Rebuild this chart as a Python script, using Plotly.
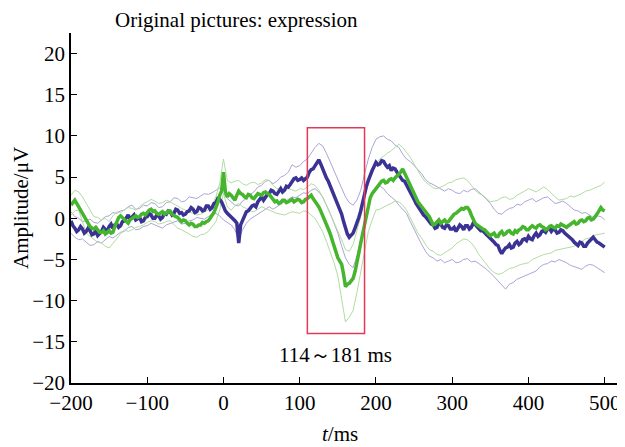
import plotly.graph_objects as go

# thick averaged waveforms (µV), sampled every 2.5 ms from -200 to 500 ms
blue_mean = [
    -0.3, -0.9, -1.2, -1.6, -1.4, -1.0, -1.3, -1.8, -1.6, -1.2, -1.5, -2.0, -1.9, -1.5, -2.1, -1.8, -1.6, -1.1, -1.3, -1.6,
    -1.0, -0.7, -1.2, -0.8, -0.7, -1.1, -0.9, -0.4, -0.3, 0.1, 0.4, -0.1, 0.2, 0.4, -0.2, 0.0, 0.1, -0.4, -0.3, 0.1,
    0.2, 0.6, 0.4, 0.0, 0.0, 0.4, 0.3, -0.1, 0.1, 0.6, 0.5, 0.9, 0.8, 0.4, 0.6, 1.1, 1.0, 0.6, 0.7, 0.4,
    0.5, 0.8, 0.9, 1.3, 1.1, 0.7, 0.8, 1.3, 1.2, 0.9, 1.0, 1.5, 1.5, 1.1, 1.3, 1.8, 1.9, 2.4, 2.3, 2.0,
    1.4, 0.9, 0.6, 0.4, 0.2, -0.1, -0.3, -0.6, -3.0, -0.8, -0.2, 0.4, 0.8, 0.9, 1.2, 1.5, 1.6, 1.4, 2.0, 2.3,
    2.6, 2.2, 2.5, 2.9, 3.0, 3.4, 3.3, 3.0, 2.9, 3.3, 3.6, 3.2, 3.4, 3.9, 3.8, 4.1, 4.4, 4.8, 4.9, 4.6,
    4.7, 4.9, 4.6, 4.8, 5.0, 5.6, 5.9, 6.0, 6.4, 6.9, 7.1, 6.6, 6.0, 5.6, 4.9, 4.5, 3.9, 3.5, 2.9, 2.4,
    1.6, 1.1, 0.5, -0.4, -1.2, -1.9, -2.3, -2.1, -1.8, -1.2, -0.6, 0.1, 0.9, 2.0, 3.0, 3.9, 4.6, 5.3, 5.8, 6.3,
    6.8, 6.5, 6.6, 7.0, 6.9, 6.5, 6.2, 6.4, 5.8, 6.1, 6.0, 5.6, 5.3, 5.0, 4.6, 4.5, 4.1, 3.6, 3.2, 2.8,
    2.3, 1.8, 1.4, 1.2, 0.8, 0.4, 0.2, -0.1, -0.3, -0.7, -0.8, -1.2, -1.1, -0.6, -0.7, -1.1, -1.2, -0.8, -0.9, -1.3,
    -1.3, -1.1, -1.6, -1.2, -0.8, -1.0, -1.4, -0.9, -0.9, -1.3, -1.1, -0.6, -0.7, -1.0, -1.2, -1.5, -1.5, -1.8, -2.0, -2.2,
    -2.4, -2.6, -2.9, -3.2, -3.3, -3.9, -4.3, -3.9, -3.6, -3.5, -3.2, -3.6, -3.5, -3.0, -2.8, -3.2, -3.0, -2.6, -2.5, -2.7,
    -2.2, -2.5, -2.6, -2.1, -1.8, -2.2, -2.0, -1.6, -1.5, -1.7, -1.3, -1.2, -1.6, -1.3, -1.4, -1.8, -1.7, -1.4, -1.5, -1.8,
    -2.0, -2.1, -2.3, -2.6, -2.9, -3.1, -3.3, -2.9, -3.0, -3.4, -3.4, -3.0, -2.8, -2.5, -2.3, -2.6, -2.9, -3.0, -3.2, -3.4,
    -3.5,
]
green_mean = [
    1.6, 2.0, 2.2, 1.8, 1.4, 0.8, 0.4, 0.0, -0.4, -0.6, -1.0, -1.2, -1.3, -1.1, -1.4, -1.7, -1.7, -1.5, -1.9, -1.7,
    -1.5, -1.8, -1.7, -1.0, -0.3, 0.1, 0.3, 0.1, -0.1, -0.3, -0.6, -0.2, 0.0, 0.2, 0.3, 0.1, 0.2, 0.5, 0.6, 0.4,
    0.8, 1.0, 1.1, 0.8, 0.9, 0.6, 0.5, 0.7, 0.8, 0.5, 0.6, 0.9, 0.9, 0.5, 0.3, 0.2, 0.1, -0.2, -0.4, -0.2,
    -0.3, -0.6, -0.8, -0.6, -0.7, -1.0, -1.0, -0.8, -0.8, -0.5, -0.6, -0.4, -0.3, 0.0, 0.3, 0.7, 1.3, 1.9, 2.8, 3.3,
    5.6, 3.2, 2.6, 3.0, 2.8, 2.4, 2.2, 2.8, 3.3, 3.0, 2.9, 2.6, 2.5, 2.9, 2.8, 2.5, 2.4, 2.7, 3.0, 2.9,
    2.8, 3.1, 3.2, 3.0, 2.9, 2.6, 2.3, 2.0, 2.1, 1.8, 1.9, 2.2, 2.2, 1.9, 2.0, 2.2, 2.3, 2.0, 2.1, 2.3,
    2.2, 1.9, 2.0, 2.3, 2.4, 2.6, 2.8, 2.4, 2.1, 1.8, 1.4, 0.9, 0.4, -0.2, -0.8, -1.3, -1.9, -2.7, -3.5, -4.3,
    -4.8, -5.2, -5.6, -6.8, -8.3, -8.0, -7.9, -7.6, -7.3, -6.5, -5.5, -4.2, -3.0, -1.8, -0.6, 0.6, 1.8, 2.5, 3.0, 3.3,
    3.6, 4.0, 4.3, 4.5, 4.6, 4.3, 4.4, 4.7, 4.8, 4.6, 4.9, 5.1, 5.3, 5.6, 6.0, 5.5, 4.9, 4.4, 3.9, 3.3,
    2.8, 2.4, 2.0, 1.7, 1.4, 1.1, 0.8, 0.5, 0.2, -0.3, -0.8, -0.7, -0.5, -0.2, -0.6, -0.4, -0.2, -0.5, -0.4, -0.1,
    0.2, 0.5, 0.6, 0.8, 1.0, 1.2, 1.1, 1.3, 1.3, 1.0, 0.4, -0.1, -0.6, -0.8, -1.0, -1.2, -1.3, -1.4, -1.7, -1.9,
    -2.1, -1.9, -1.8, -2.2, -2.2, -1.8, -1.6, -2.0, -1.9, -1.6, -1.5, -1.8, -1.9, -1.5, -1.7, -1.4, -1.3, -1.0, -1.1, -1.4,
    -1.4, -1.1, -0.9, -1.1, -1.2, -0.9, -0.8, -1.0, -1.1, -1.4, -1.3, -1.0, -0.9, -1.1, -1.2, -0.9, -1.0, -0.7, -0.8, -1.0,
    -1.1, -0.9, -0.7, -0.5, -0.4, -0.7, -0.6, -0.3, -0.2, -0.4, -0.3, 0.0, 0.1, -0.2, -0.1, 0.2, 0.5, 0.9, 1.3, 1.0,
    0.9,
]

# thin confidence bands (µV), sampled every 5 ms from -200 to 500 ms
blue_upper = [
    0.8, 0.2, 0.0, -0.4, -0.3, -0.1, -0.5, -0.6, -0.2, 0.2, 0.3, 0.7, 0.6, 0.9, 1.0, 1.4, 1.6, 1.1, 1.2, 1.6,
    1.5, 1.9, 1.8, 1.3, 1.4, 1.9, 2.0, 2.5, 2.4, 2.0, 2.1, 2.6, 2.5, 2.4, 2.7, 3.0, 2.9, 3.1, 3.4, 3.7,
    3.0, 2.4, 2.0, 1.6, 1.5, 2.1, 2.4, 2.9, 3.2, 3.8, 4.0, 4.5, 4.6, 4.2, 4.5, 5.0, 5.2, 5.6, 6.5, 6.2,
    6.4, 6.9, 7.2, 7.9, 8.6, 9.1, 8.8, 7.9, 6.8, 5.8, 4.8, 3.6, 2.6, 1.9, 1.6, 2.2, 3.4, 5.4, 7.2, 8.6,
    9.6, 9.9, 10.0, 9.6, 9.4, 8.9, 8.6, 7.8, 7.2, 6.9, 6.4, 5.8, 5.4, 4.7, 4.3, 4.1, 3.8, 3.6, 3.3, 3.6,
    3.4, 3.1, 3.0, 3.4, 3.2, 3.5, 3.6, 3.2, 2.8, 2.3, 1.8, 1.1, 0.6, 0.5, 0.9, 1.2, 1.3, 1.7, 1.6, 2.0,
    2.2, 2.4, 2.0, 2.3, 2.5, 2.6, 2.2, 1.8, 1.9, 2.1, 1.8, 1.4, 1.0, 0.9, 0.6, 0.7, 0.4, 0.1, 0.3, 0.2,
    -0.2,
]
blue_lower = [
    -1.8, -2.3, -2.6, -2.5, -2.9, -3.3, -3.2, -2.8, -3.0, -2.6, -2.2, -2.4, -2.0, -1.7, -1.6, -1.1, -1.0, -1.4, -1.3, -1.0,
    -0.9, -0.6, -0.8, -1.0, -1.2, -0.8, -0.6, -0.4, -0.3, -0.7, -0.6, -0.3, -0.2, 0.1, 0.0, -0.1, 0.2, 0.5, 0.6, 0.3,
    -0.2, -0.5, -0.8, -1.4, -2.6, -1.4, -0.6, -0.1, 0.2, 0.6, 0.9, 1.2, 1.4, 1.1, 1.4, 1.8, 2.0, 2.3, 2.6, 2.5,
    2.8, 3.1, 3.0, 3.4, 3.6, 3.2, 2.6, 1.7, 0.6, -0.6, -1.8, -3.4, -4.8, -5.6, -6.0, -4.6, -2.8, -0.6, 1.6, 3.0,
    3.8, 3.9, 3.6, 3.0, 2.6, 2.2, 1.6, 1.1, 0.6, -0.4, -1.4, -2.4, -3.2, -4.0, -4.6, -4.8, -5.2, -5.0, -5.4, -5.2,
    -5.0, -5.4, -5.3, -5.0, -4.9, -5.3, -5.2, -5.5, -5.8, -6.2, -6.6, -7.1, -7.6, -8.2, -8.6, -8.0, -7.8, -7.4, -7.2, -7.0,
    -6.8, -6.6, -6.4, -5.9, -5.6, -5.5, -5.2, -5.3, -5.0, -5.2, -5.4, -5.7, -5.9, -6.0, -6.2, -5.8, -5.6, -5.7, -6.0, -6.2,
    -6.6,
]
green_upper = [
    2.8, 3.4, 3.2, 2.6, 1.8, 0.9, 0.2, 0.1, -0.2, 0.0, -0.4, 0.3, 0.8, 0.7, 1.0, 1.3, 1.2, 1.0, 1.4, 1.8,
    2.0, 2.3, 2.1, 1.8, 1.9, 2.2, 2.0, 1.7, 1.4, 1.2, 1.0, 0.8, 0.6, 0.4, 0.5, 0.8, 1.0, 1.6, 2.6, 4.2,
    7.2, 4.6, 4.3, 4.5, 4.6, 4.2, 4.0, 4.3, 4.4, 4.1, 4.3, 4.7, 4.6, 4.0, 3.6, 3.5, 3.3, 3.6, 3.4, 3.3,
    3.6, 3.5, 3.8, 4.2, 4.0, 3.4, 2.6, 1.6, 0.6, -0.4, -1.4, -2.6, -3.8, -4.0, -3.2, -1.6, 0.2, 2.4, 4.6, 5.8,
    6.6, 7.2, 7.6, 7.9, 8.2, 8.6, 9.0, 8.6, 8.0, 7.4, 6.6, 5.8, 5.0, 4.4, 4.0, 3.7, 3.6, 3.8, 4.0, 4.3,
    4.4, 4.7, 4.8, 4.9, 4.6, 4.0, 3.4, 3.0, 2.8, 2.4, 2.0, 2.1, 2.2, 2.5, 2.6, 2.3, 2.4, 2.8, 3.0, 3.3,
    3.6, 3.4, 3.2, 3.5, 3.8, 3.5, 3.0, 2.6, 2.2, 2.3, 2.4, 2.7, 2.6, 2.8, 3.0, 3.3, 3.4, 3.6, 3.8, 4.0,
    4.4,
]
green_lower = [
    0.4, 0.9, 1.0, -0.4, -1.8, -2.2, -2.6, -2.9, -3.0, -3.4, -3.6, -3.0, -2.4, -1.9, -1.4, -1.6, -1.4, -1.1, -1.0, -0.8,
    -0.5, -0.3, -0.4, -0.7, -0.6, -0.4, -0.3, -0.7, -1.2, -1.4, -1.6, -1.9, -2.2, -2.3, -2.0, -1.9, -1.6, -1.0, -0.4, 1.0,
    3.0, 1.4, 1.0, 1.5, 1.8, 1.4, 1.2, 0.9, 0.8, 1.1, 1.4, 1.2, 1.0, 0.8, 0.6, 0.5, 0.4, 0.6, 0.8, 0.7,
    0.6, 0.9, 0.8, 0.4, 0.0, -0.8, -1.6, -2.8, -4.0, -5.4, -7.0, -9.6, -12.6, -12.0, -11.2, -9.0, -6.6, -4.0, -1.6, -0.2,
    1.0, 1.1, 1.4, 1.6, 1.8, 2.1, 2.0, 1.6, 1.0, 0.0, -1.0, -1.8, -2.4, -3.2, -3.8, -4.0, -4.4, -4.5, -4.2, -3.9,
    -3.6, -3.1, -2.8, -2.5, -2.6, -3.0, -3.6, -4.4, -5.0, -5.6, -6.2, -6.6, -6.8, -6.7, -6.4, -6.1, -6.0, -5.8, -5.6, -5.5,
    -5.4, -5.0, -4.8, -4.6, -4.4, -4.3, -4.2, -3.9, -3.8, -3.7, -3.6, -3.5, -3.4, -3.0, -2.8, -2.5, -2.4, -2.1, -2.0, -1.9,
    -1.8,
]

# sampling grids (ms)
t_main = [-200 + 2.5 * i for i in range(len(blue_mean))]
t_band = [-200 + 5 * i for i in range(len(blue_upper))]

x_ticks = [-200, -100, 0, 100, 200, 300, 400, 500]
y_ticks = [-20, -15, -10, -5, 0, 5, 10, 15, 20]
window = [110, 185]
window_amp = [-14, 11]
title_text = "Original pictures: expression"
window_text = "114～181 ms"

BLUE = "#3b3394"
GREEN = "#45b52d"
BLUE_THIN = "#aaa5d4"
GREEN_THIN = "#b2dca3"
FONT = "'Liberation Serif', 'Times New Roman', Times, serif"

fig = go.Figure()
for y, c in [(blue_upper, BLUE_THIN), (blue_lower, BLUE_THIN),
             (green_upper, GREEN_THIN), (green_lower, GREEN_THIN)]:
    fig.add_trace(go.Scatter(x=t_band, y=y, mode="lines",
                             line=dict(color=c, width=1), showlegend=False))
fig.add_trace(go.Scatter(x=t_main, y=blue_mean, mode="lines",
                         line=dict(color=BLUE, width=3.5), showlegend=False))
fig.add_trace(go.Scatter(x=t_main, y=green_mean, mode="lines",
                         line=dict(color=GREEN, width=3.5), showlegend=False))

fig.add_shape(type="rect", x0=window[0], x1=window[1], y0=window_amp[0], y1=window_amp[1],
              xref="x", yref="y", line=dict(color="#e23a55", width=1.5))
fig.add_annotation(x=(window[0] + window[1]) / 2, y=window_amp[0] - 2.6, text=window_text,
                   showarrow=False, xref="x", yref="y",
                   font=dict(family=FONT, size=21, color="black"))
fig.add_annotation(x=0.30, y=1.0, xref="paper", yref="paper", xanchor="center",
                   yanchor="middle", yshift=13,
                   text=title_text, showarrow=False,
                   font=dict(family=FONT, size=21, color="black"))
fig.add_annotation(x=0.487, y=0, xref="paper", yref="paper", xanchor="center",
                   yanchor="middle", yshift=-51,
                   text="<i>t</i>/ms", showarrow=False,
                   font=dict(family=FONT, size=21, color="black"))
fig.add_annotation(x=0, y=0.5, xref="paper", yref="paper", xanchor="center",
                   yanchor="middle", xshift=-50, textangle=-90,
                   text="Amplitude/μV", showarrow=False,
                   font=dict(family=FONT, size=21, color="black"))

# the page body adds an 8 px offset, so the figure is 8 px smaller and margins shifted
fig.update_layout(
    width=617, height=439,
    margin=dict(l=63, r=2, t=25, b=64),
    paper_bgcolor="white", plot_bgcolor="white",
    font=dict(family=FONT, size=21, color="black"),
    xaxis=dict(range=[-200, 524], tickvals=x_ticks, ticks="inside", ticklen=6,
               tickcolor="black", showline=True, linecolor="black", linewidth=1.5,
               showgrid=False, zeroline=False, automargin=False,
               tickfont=dict(family=FONT, size=21)),
    yaxis=dict(range=[-20, 22.5], tickvals=y_ticks, ticks="inside", ticklen=6,
               tickcolor="black", showline=True, linecolor="black", linewidth=1.5,
               showgrid=False, zeroline=False, automargin=False,
               tickfont=dict(family=FONT, size=21)),
)

fig.write_html("out.html")
